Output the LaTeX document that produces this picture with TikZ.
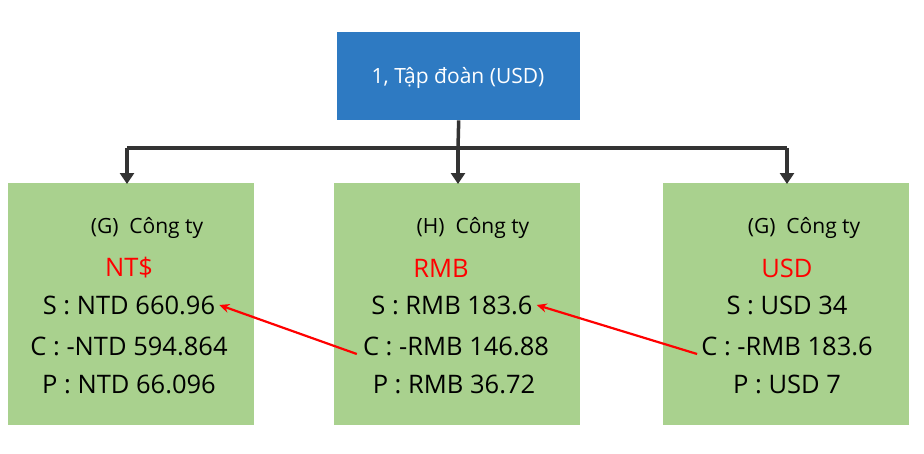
\documentclass[tikz,border=0pt]{standalone}
\usepackage{fontspec}
\setmainfont{Open Sans}
\usetikzlibrary{arrows.meta}
\definecolor{topblue}{HTML}{2E7AC2}
\definecolor{boxgreen}{HTML}{A9D18E}
\definecolor{linegray}{HTML}{333333}
\tikzset{
  green box/.style={fill=boxgreen,draw=none,minimum width=246pt,minimum height=242pt,anchor=north west,inner sep=0},
  main/.style={font=\fontsize{25.5}{28}\selectfont,inner sep=0},
  head/.style={font=\fontsize{21}{24}\selectfont,inner sep=0},
  redt/.style={main,text=red},
  conn/.style={linegray,line width=3.5pt},
  redarrow/.style={red,line width=2.2pt,-{Stealth[length=10pt,width=9pt]}}
}
\begin{document}
\begin{tikzpicture}[x=1pt,y=-1pt]
\useasboundingbox (0,0) rectangle (924,453);
\node[fill=topblue,minimum width=243pt,minimum height=88pt,anchor=north west,inner sep=0] (top) at (337,32) {};
\node[text=white,font=\fontsize{21}{24}\selectfont] (toptxt) at (458,78) {1, Tập đoàn (USD)};
\node[green box] (L) at (8,183) {};
\node[green box] (M) at (334,183) {};
\node[green box] (R) at (663,183) {};
% connectors
\coordinate (j) at (458,148);
\coordinate (jl) at (127,148);
\coordinate (jr) at (787,148);
\draw[conn] (top.south) -- (j);
\draw[conn] (jl) -- (jr);
\draw[conn,-{Triangle[length=11pt,width=14pt]}] (jl) -- (127,184);
\draw[conn,-{Triangle[length=11pt,width=14pt]}] (j) -- (458,184);
\draw[conn,-{Triangle[length=11pt,width=14pt]}] (jr) -- (787,184);
% left texts
\node[head] (lh) at (147,228) {(G)\ \ Công ty};
\node[redt] (lr) at (129,268) {NT\$};
\node[main] (ls) at (129,305) {S : NTD 660.96};
\node[main] (lc) at (129,346) {C : -NTD 594.864};
\node[main] (lp) at (129,384) {P : NTD 66.096};
% middle
\node[head] (mh) at (473,228) {(H)\ \ Công ty};
\node[redt] (mr) at (441,268) {RMB};
\node[main] (ms) at (452,305) {S : RMB 183.6};
\node[main] (mc) at (456,346) {C : -RMB 146.88};
\node[main] (mp) at (454,384) {P : RMB 36.72};
% right
\node[head] (rh) at (804,228) {(G)\ \ Công ty};
\node[redt] (rr) at (787,268) {USD};
\node[main] (rs) at (787,305) {S : USD 34};
\node[main] (rc) at (787,346) {C : -RMB 183.6};
\node[main] (rp) at (787,384) {P : USD 7};
% red arrows
\draw[redarrow] ([xshift=-6pt,yshift=-8pt]mc.west) -- ([xshift=4pt]ls.east);
\draw[redarrow] ([xshift=-4pt,yshift=-8pt]rc.west) -- ([xshift=4pt]ms.east);
\end{tikzpicture}
\end{document}
